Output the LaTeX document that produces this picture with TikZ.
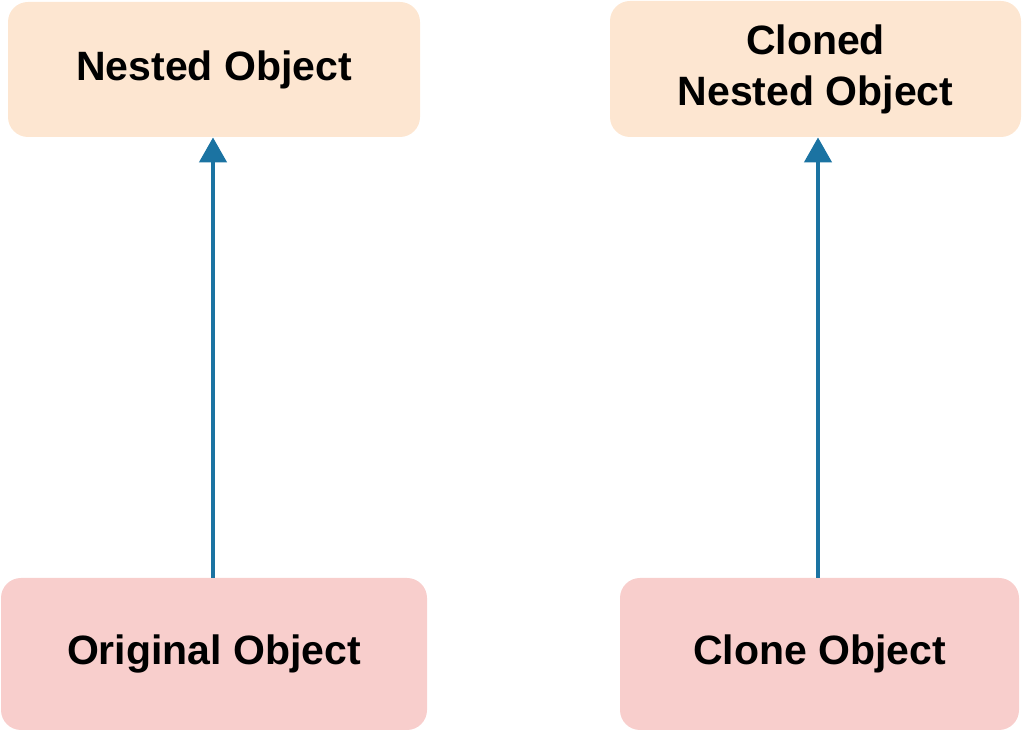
\documentclass[tikz,border=0pt]{standalone}
\usepackage{fontspec}
\setmainfont{Liberation Sans}
\usetikzlibrary{arrows.meta}

\definecolor{nestfill}{HTML}{FDE6D1}
\definecolor{objfill}{HTML}{F8CECC}
\definecolor{linkblue}{HTML}{1B73A2}

\tikzset{
 box/.style={rounded corners=10pt,inner sep=0pt,align=center,
   font=\fontsize{20.5}{25.5}\selectfont\bfseries},
 nestbox/.style={box,fill=nestfill},
 objbox/.style={box,fill=objfill},
 link/.style={draw=linkblue,line width=2.2pt,-{Triangle[length=12.5pt,width=13.5pt]}}
}

\begin{document}
\begin{tikzpicture}[x=0.5pt,y=-0.5pt]
 \useasboundingbox (0,0) rectangle (1024,731);
 \node[nestbox,minimum width=206pt,minimum height=67.5pt] (nested) at (214,69.5) {Nested Object};
 \node[nestbox,minimum width=205.5pt,minimum height=68pt] (clonednested) at (815.5,69) {Cloned\\Nested Object};
 \node[objbox,minimum width=213pt,minimum height=76pt] (original) at (214,654) {Original Object};
 \node[objbox,minimum width=199.5pt,minimum height=76pt] (clone) at (819.5,654) {Clone Object};
 % each object points at its nested object
 \draw[link] ([xshift=-0.5pt]original.north) -- ([xshift=-0.5pt]original.north |- nested.south);
 \draw[link] ([xshift=-0.75pt]clone.north) -- ([xshift=-0.75pt]clone.north |- clonednested.south);
\end{tikzpicture}
\end{document}
